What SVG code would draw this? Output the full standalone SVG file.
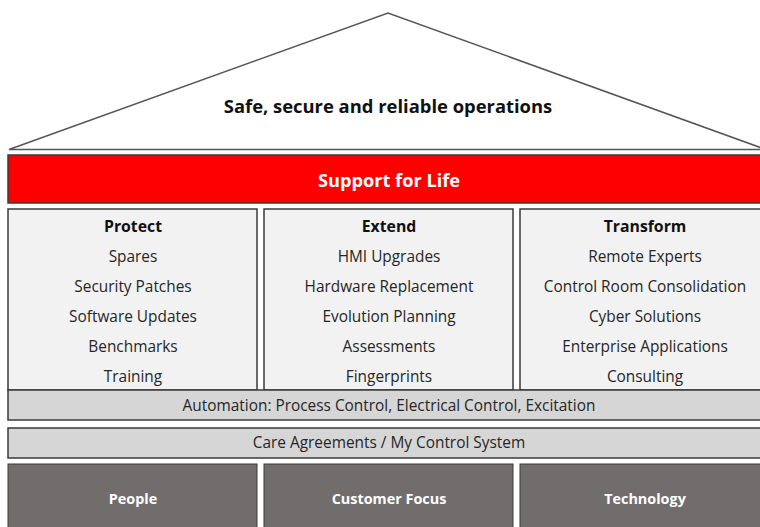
<svg xmlns="http://www.w3.org/2000/svg" width="760" height="527" viewBox="0 0 760 527">
<style>
.t{font-family:"Open Sans","Liberation Sans",sans-serif;text-anchor:middle;fill:#262626;font-size:15.4px}
.b{font-weight:bold}
.h{font-size:15.8px;fill:#111}
.w{fill:#ffffff}
.s{font-size:14.4px}
.col{fill:#f2f2f2;stroke:#3a3a3a;stroke-width:1.5}
.bar{fill:#d6d6d6;stroke:#3a3a3a;stroke-width:1.5}
.base{fill:#726d6d;stroke:#3a3a3a;stroke-width:1}
</style>
<rect width="760" height="527" fill="#ffffff"/>
<g id="roof">
<polygon points="9,149.5 388,13 766,149.5" fill="#ffffff" stroke="#555555" stroke-width="1.5"/>
<text class="t b" x="388" y="113" style="font-size:18.4px;fill:#111">Safe, secure and reliable operations</text>
</g>
<g id="support">
<rect x="8" y="155" width="760" height="48" fill="#ff0000" stroke="#3a3a3a" stroke-width="1.5"/>
<text class="t b w" x="389" y="187" style="font-size:18.2px">Support for Life</text>
</g>
<g id="protect">
<rect class="col" x="8" y="209" width="249" height="181"/>
<text class="t b h" x="133" y="231.5">Protect</text>
<text class="t" x="133" y="262">Spares</text>
<text class="t" x="133" y="292">Security Patches</text>
<text class="t" x="133" y="322">Software Updates</text>
<text class="t" x="133" y="352">Benchmarks</text>
<text class="t" x="133" y="382">Training</text>
</g>
<g id="extend">
<rect class="col" x="264" y="209" width="249" height="181"/>
<text class="t b h" x="389" y="231.5">Extend</text>
<text class="t" x="389" y="262">HMI Upgrades</text>
<text class="t" x="389" y="292">Hardware Replacement</text>
<text class="t" x="389" y="322">Evolution Planning</text>
<text class="t" x="389" y="352">Assessments</text>
<text class="t" x="389" y="382">Fingerprints</text>
</g>
<g id="transform">
<rect class="col" x="520" y="209" width="250" height="181"/>
<text class="t b h" x="645" y="231.5">Transform</text>
<text class="t" x="645" y="262">Remote Experts</text>
<text class="t" x="645" y="292">Control Room Consolidation</text>
<text class="t" x="645" y="322">Cyber Solutions</text>
<text class="t" x="645" y="352">Enterprise Applications</text>
<text class="t" x="645" y="382">Consulting</text>
</g>
<g id="automation">
<rect class="bar" x="8" y="390" width="760" height="30"/>
<text class="t" x="389" y="411">Automation: Process Control, Electrical Control, Excitation</text>
</g>
<g id="care">
<rect class="bar" x="8" y="428" width="760" height="30"/>
<text class="t" x="389" y="448">Care Agreements / My Control System</text>
</g>
<g id="people">
<rect class="base" x="8" y="464" width="249" height="70"/>
<text class="t b w s" x="133" y="504">People</text>
</g>
<g id="customer-focus">
<rect class="base" x="264" y="464" width="249" height="70"/>
<text class="t b w s" x="389" y="504">Customer Focus</text>
</g>
<g id="technology">
<rect class="base" x="520" y="464" width="250" height="70"/>
<text class="t b w s" x="645" y="504">Technology</text>
</g>
<g id="connectors"></g>
</svg>
